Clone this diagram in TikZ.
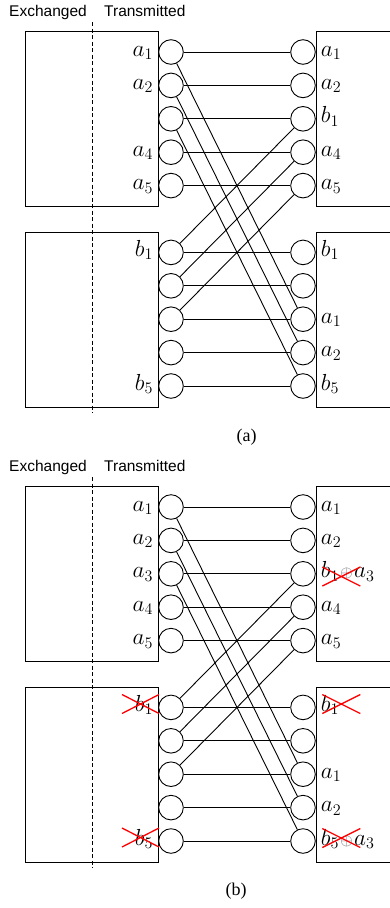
\documentclass[tikz,border=0pt]{standalone}
\usepackage{graphicx}
\usepackage{fontspec}
\newfontfamily\sansf{Liberation Sans}
\newfontfamily\seriff{Liberation Serif}
\tikzset{
  ln/.style={line width=0.9pt},
  bub/.style={circle, draw, line width=0.9pt, minimum size=24.6pt, inner sep=0pt},
  lab/.style={inner sep=0pt, font=\fontsize{20}{24}\selectfont},
  hdr/.style={inner sep=0pt, font=\sansf\fontsize{15.5}{18}\selectfont, anchor=base west},
  capt/.style={inner sep=0pt, font=\seriff\fontsize{18}{21}\selectfont},
  xmark/.style={draw=red, line width=1.3pt},
}
\newcommand\llab[3]{\node[lab, anchor=base east] (#1) at ([xshift=-5pt,yshift=-4pt]#2.west) {\scalebox{1.12}{$#3$}};}
\newcommand\rlab[3]{\node[lab, anchor=base west] (#1) at ([xshift=5pt,yshift=-4pt]#2.east) {\scalebox{1.12}{$#3$}};}
\newcommand\xcross[3]{\draw[xmark] ({#1-#3},{#2-9.5}) -- ({#1+#3},{#2+9.5}) ({#1-#3},{#2+9.5}) -- ({#1+#3},{#2-9.5});}
\newcommand\grayplus{\mkern1mu{\color{black!60}\scriptstyle\oplus}\mkern1mu}
\begin{document}
\begin{tikzpicture}[x=1pt,y=-1pt]
\useasboundingbox (0,0) rectangle (390,908);
\foreach \p/\off in {a/0,b/455}{
  \begin{scope}[shift={(0,\off)}]
    \node[hdr] (\p hx) at (9,16.5) {Exchanged};
    \node[hdr] (\p ht) at (104,16.5) {Transmitted};
    \draw[ln] (25,31) rectangle (158,206);
    \draw[ln] (25,232) rectangle (158,407);
    \draw[ln] (390,31) -- (316,31) -- (316,206) -- (390,206);
    \draw[ln] (390,232) -- (316,232) -- (316,407) -- (390,407);
    \draw[ln, dash pattern=on 4pt off 2.5pt] (92,22) -- (92,413);
    \foreach \i/\k in {1/0,2/1,3/2,4/3,5/4,6/6,7/7,8/8,9/9,10/10}{
      \node[bub] (\p L\i) at (171, 52+33.4*\k) {};
      \node[bub] (\p R\i) at (303, 52+33.4*\k) {};
    }
    \foreach \i in {1,...,10}{\draw[ln] (\p L\i) -- (\p R\i);}
    \draw[ln] (\p L1) -- (\p R8);
    \draw[ln] (\p L2) -- (\p R9);
    \draw[ln] (\p L3) -- (\p R10);
    \draw[ln] (\p L6) -- (\p R3);
    \draw[ln] (\p L7) -- (\p R4);
    \draw[ln] (\p L8) -- (\p R5);
  \end{scope}
}
% panel (a) labels
\llab{al1}{aL1}{a_1}
\llab{al2}{aL2}{a_2}
\llab{al4}{aL4}{a_4}
\llab{al5}{aL5}{a_5}
\llab{al6}{aL6}{b_1}
\llab{al10}{aL10}{b_5}
\rlab{ar1}{aR1}{a_1}
\rlab{ar2}{aR2}{a_2}
\rlab{ar3}{aR3}{b_1}
\rlab{ar4}{aR4}{a_4}
\rlab{ar5}{aR5}{a_5}
\rlab{ar6}{aR6}{b_1}
\rlab{ar8}{aR8}{a_1}
\rlab{ar9}{aR9}{a_2}
\rlab{ar10}{aR10}{b_5}
\node[capt] (capa) at (246.5,437) {(a)};
% panel (b) labels
\llab{bl1}{bL1}{a_1}
\llab{bl2}{bL2}{a_2}
\llab{bl3}{bL3}{a_3}
\llab{bl4}{bL4}{a_4}
\llab{bl5}{bL5}{a_5}
\llab{bl6}{bL6}{b_1}
\llab{bl10}{bL10}{b_5}
\rlab{br1}{bR1}{a_1}
\rlab{br2}{bR2}{a_2}
\rlab{br3}{bR3}{b_1\grayplus a_3}
\rlab{br4}{bR4}{a_4}
\rlab{br5}{bR5}{a_5}
\rlab{br6}{bR6}{b_1}
\rlab{br8}{bR8}{a_1}
\rlab{br9}{bR9}{a_2}
\rlab{br10}{bR10}{b_5\grayplus a_3}
\node[capt] (capb) at (236,891) {(b)};
% red crosses
\xcross{341.3}{576.5}{19}
\xcross{341.3}{704}{19}
\xcross{341.3}{838}{19}
\xcross{140.5}{704}{18.5}
\xcross{140.5}{837.5}{18.5}
\end{tikzpicture}
\end{document}
